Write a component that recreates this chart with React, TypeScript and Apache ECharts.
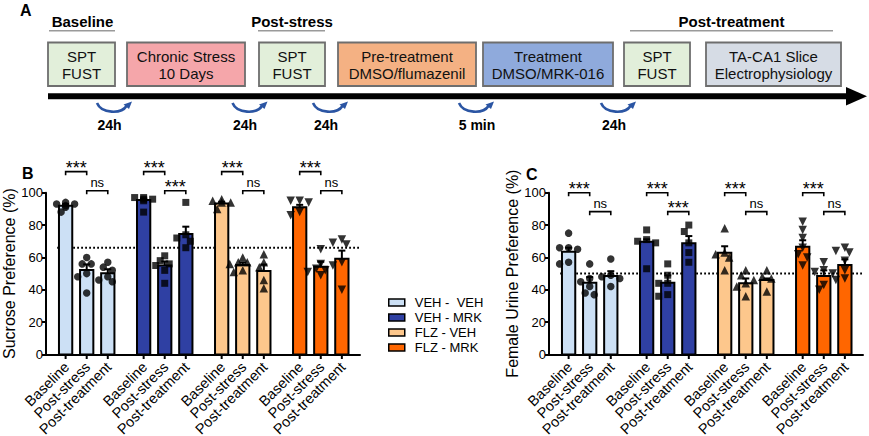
import React, { useEffect, useRef } from "react";
import * as echarts from "echarts";

// ---------------- DATA ----------------
const phases = ["Baseline", "Post-stress", "Post-treatment"];
const groupNames = ["VEH - \u00a0VEH", "VEH - MRK", "FLZ - VEH", "FLZ - MRK"];

// Panel B: sucrose preference (%)
const sucroseMeans = [
  [92, 52.2, 50.2],
  [95.5, 55, 74.5],
  [93.4, 55.3, 51.6],
  [91, 54.3, 59.2],
];
const sucroseSems = [
  [1, 3.5, 2.5],
  [0.8, 2.5, 4.5],
  [1, 1.5, 4],
  [1.5, 3, 5],
];
const sucrosePoints = [
  [[93, 94, 92, 91, 88, 93], [60, 56, 56, 50, 48, 38], [57, 54, 52, 48, 46, 45]],
  [[97, 97, 96, 96, 95, 88], [61, 58, 56, 55, 52, 44], [94, 74, 72, 70, 66]],
  [[96, 95, 94, 94, 90], [60, 57, 57, 56, 52, 51], [62, 57, 54, 46, 41]],
  [[95, 95, 94, 88, 86], [65, 56, 53, 52, 51, 49], [71, 69, 68, 57, 55, 40]],
];
const sucroseCriterion = 66;

// Panel C: female urine preference (%)
const urineMeans = [
  [63.5, 44.4, 48.5],
  [69.7, 44.4, 68.7],
  [62.9, 44, 46],
  [66.6, 48.5, 55.3],
];
const urineSems = [
  [2.5, 3.5, 3],
  [1.5, 4.5, 4.5],
  [4, 3, 1],
  [4, 3.5, 3.5],
];
const urinePoints = [
  [[75, 66, 66, 65, 57, 56], [56, 47, 45, 42, 38, 37], [59, 49, 48, 47, 42]],
  [[77, 71, 70, 69, 53], [56, 49, 44, 44, 37, 36], [80, 76, 69, 63, 57]],
  [[78, 63, 62, 60, 52], [52, 49, 44, 42, 36], [52, 48, 47, 46, 39]],
  [[82, 77, 72, 66, 62, 60, 55], [57, 52, 51, 50, 43, 40], [66, 64, 63, 58, 52, 47, 46]],
];
const urineCriterion = 50;

// significance: [baseline vs post-stress, post-stress vs post-treatment]
const sigLabels = [
  ["***", "ns"],
  ["***", "***"],
  ["***", "ns"],
  ["***", "ns"],
];

const yTicks = [0, 20, 40, 60, 80, 100];

// Panel A timeline
const timelineBoxes = [
  "SPT\nFUST",
  "Chronic Stress\n10 Days",
  "SPT\nFUST",
  "Pre-treatment\nDMSO/flumazenil",
  "Treatment\nDMSO/MRK-016",
  "SPT\nFUST",
  "TA-CA1 Slice\nElectrophysiology",
];
const timelineGaps = ["24h", "24h", "24h", "5 min", "24h"];
const phaseHeaders = ["Baseline", "Post-stress", "Post-treatment"];

// ---------------- LAYOUT / STYLE ----------------
const FONT = '"Liberation Sans", Arial, Helvetica, sans-serif';
const groupColors = ["#cce0f5", "#2f40a3", "#fdc78c", "#ff6600"];
const groupSymbols = ["circle", "rect", "triangle", "triangle"];
const symbolRotations = [0, 0, 0, 180];
const symbolSizes = [7.5, 7, 8.5, 8.5];
const GROUP_STEP = 3.7;
const X_MIN = -0.93;
const X_MAX = 13.96;
const X_PX = 314 / (X_MAX - X_MIN);
const Y_PX = 161.8 / 100;
const bracketLevels = [
  [113, 101.2],
  [100, 88.3],
];

const boxX = [
  [48, 115],
  [127, 245],
  [259, 325],
  [338, 476],
  [483, 613],
  [624, 690],
  [706, 841],
];
const boxFills = ["#e2efda", "#f5a6aa", "#e2efda", "#f4b183", "#8faadc", "#e2efda", "#d6dce5"];
const gapLabelX = [109.5, 245, 326, 477, 614];
const gapArcX = [113.5, 249, 329.5, 475.5, 617.5];
const headerX = [82.5, 292, 731.5];
const headerLines = [
  [49, 115],
  [258, 325],
  [630, 833],
];

const barX = (g: number, i: number) => g * GROUP_STEP + i;

function swarm(values: number[], center: number): number[][] {
  const placed: number[][] = [];
  const cands = [0, -4.5, 4.5, -9, 9, -13, 13];
  const order = values.map((_, i) => i).sort((a, b) => values[b] - values[a]);
  const out: number[][] = [];
  for (const idx of order) {
    const v = values[idx];
    let chosen = 0;
    for (const c of cands) {
      const ok = placed.every(([px, pv]) => (px - c) ** 2 + ((pv - v) * Y_PX) ** 2 >= 6.5 * 6.5);
      if (ok) {
        chosen = c;
        break;
      }
    }
    placed.push([chosen, v]);
    out.push([center + chosen / X_PX, v]);
  }
  return out;
}

function buildPanel(
  panelIdx: number,
  means: number[][],
  sems: number[][],
  points: number[][][],
  criterion: number
): any[] {
  const series: any[] = [];
  // reference dotted line
  series.push({
    type: "line",
    xAxisIndex: panelIdx,
    yAxisIndex: panelIdx,
    data: [
      [-0.4, criterion],
      [X_MAX, criterion],
    ],
    symbol: "none",
    silent: true,
    z: 1,
    lineStyle: { color: "#000", width: 2, type: [1.8, 2.2] },
  });
  // bars with error bars
  means.forEach((gm, g) => {
    series.push({
      type: "custom",
      name: groupNames[g],
      xAxisIndex: panelIdx,
      yAxisIndex: panelIdx,
      clip: false,
      z: 2,
      itemStyle: { color: groupColors[g] },
      encode: { x: 0, y: 1 },
      data: gm.map((m, i) => [barX(g, i), m, sems[g][i]]),
      renderItem: (params: any, api: any) => {
        const x = api.value(0);
        const y = api.value(1);
        const s = api.value(2);
        const base = api.coord([x, 0]);
        const top = api.coord([x, y]);
        const et = api.coord([x, y + s]);
        const w = api.size([1, 0])[0] * 0.63;
        return {
          type: "group",
          children: [
            {
              type: "line",
              shape: { x1: top[0], y1: top[1], x2: top[0], y2: et[1] },
              style: { stroke: "#000", lineWidth: 2 },
            },
            {
              type: "line",
              shape: { x1: top[0] - 3.5, y1: et[1], x2: top[0] + 3.5, y2: et[1] },
              style: { stroke: "#000", lineWidth: 2 },
            },
            {
              type: "rect",
              shape: { x: base[0] - w / 2, y: top[1], width: w, height: base[1] - top[1] },
              style: { fill: groupColors[g], stroke: "#000", lineWidth: 2 },
            },
          ],
        };
      },
    });
  });
  // individual points
  points.forEach((gp, g) => {
    const data: number[][] = [];
    gp.forEach((vals, i) => {
      swarm(vals, barX(g, i)).forEach((p) => data.push(p));
    });
    series.push({
      type: "scatter",
      xAxisIndex: panelIdx,
      yAxisIndex: panelIdx,
      symbol: groupSymbols[g],
      symbolRotate: symbolRotations[g],
      symbolSize: symbolSizes[g],
      itemStyle: { color: "#000" },
      z: 4,
      silent: true,
      data,
    });
  });
  // x tick marks + rotated category labels
  const labelData: number[][] = [];
  means.forEach((gm, g) => gm.forEach((_, i) => labelData.push([barX(g, i), 0, i])));
  series.push({
    type: "custom",
    xAxisIndex: panelIdx,
    yAxisIndex: panelIdx,
    clip: false,
    silent: true,
    z: 5,
    encode: { x: 0, y: 1 },
    data: labelData,
    renderItem: (params: any, api: any) => {
      const p = api.coord([api.value(0), 0]);
      const idx = api.value(2);
      return {
        type: "group",
        children: [
          {
            type: "line",
            shape: { x1: p[0], y1: p[1], x2: p[0], y2: p[1] + 4.5 },
            style: { stroke: "#000", lineWidth: 2 },
          },
          {
            type: "text",
            x: p[0] + 1,
            y: p[1] + 10,
            rotation: Math.PI / 4,
            style: {
              text: phases[idx],
              align: "right",
              verticalAlign: "middle",
              font: `14.5px ${FONT}`,
              fill: "#000",
            },
          },
        ],
      };
    },
  });
  // significance brackets
  const brData: number[][] = [];
  sigLabels.forEach((pair, g) => {
    brData.push([barX(g, 0), barX(g, 1), bracketLevels[panelIdx][0], g, 0]);
    brData.push([barX(g, 1), barX(g, 2), bracketLevels[panelIdx][1], g, 1]);
  });
  series.push({
    type: "custom",
    xAxisIndex: panelIdx,
    yAxisIndex: panelIdx,
    clip: false,
    silent: true,
    z: 5,
    encode: { x: [0, 1], y: 2 },
    data: brData,
    renderItem: (params: any, api: any) => {
      const a = api.coord([api.value(0), api.value(2)]);
      const b = api.coord([api.value(1), api.value(2)]);
      const label = sigLabels[api.value(3)][api.value(4)];
      const star = label === "***";
      return {
        type: "group",
        children: [
          {
            type: "polyline",
            shape: {
              points: [
                [a[0], a[1] + 3.5],
                [a[0], a[1]],
                [b[0], b[1]],
                [b[0], b[1] + 3.5],
              ],
            },
            style: { stroke: "#000", lineWidth: 1.6, fill: null },
          },
          {
            type: "text",
            x: (a[0] + b[0]) / 2,
            y: a[1] - (star ? 4 : 8.5),
            style: {
              text: label,
              align: "center",
              verticalAlign: "middle",
              font: `${star ? 18 : 13}px ${FONT}`,
              fill: "#000",
            },
          },
        ],
      };
    },
  });
  return series;
}

function buildGraphic(): any[] {
  const els: any[] = [];
  const bold = (size: number) => `bold ${size}px ${FONT}`;
  // panel letters
  els.push({ type: "text", x: 20, y: 10, style: { text: "A", font: bold(16), fill: "#000", verticalAlign: "middle" } });
  els.push({ type: "text", x: 22, y: 173, style: { text: "B", font: bold(16), fill: "#000", verticalAlign: "middle" } });
  els.push({ type: "text", x: 526, y: 174, style: { text: "C", font: bold(16), fill: "#000", verticalAlign: "middle" } });
  // phase headers
  phaseHeaders.forEach((h, i) => {
    els.push({
      type: "text",
      x: headerX[i],
      y: 21,
      style: { text: h, font: bold(15), fill: "#000", align: "center", verticalAlign: "middle" },
    });
    els.push({
      type: "line",
      shape: { x1: headerLines[i][0], y1: 30.7, x2: headerLines[i][1], y2: 30.7 },
      style: { stroke: "#9a9a9a", lineWidth: 1.5 },
    });
  });
  // boxes
  timelineBoxes.forEach((t, i) => {
    const [x0, x1] = boxX[i];
    els.push({
      type: "rect",
      shape: { x: x0, y: 42.5, width: x1 - x0, height: 43.5 },
      style: { fill: boxFills[i], stroke: "#6e6e6e", lineWidth: 1.8 },
    });
    els.push({
      type: "text",
      x: (x0 + x1) / 2,
      y: 65,
      style: {
        text: t,
        font: `15px ${FONT}`,
        lineHeight: 17,
        fill: "#111",
        align: "center",
        verticalAlign: "middle",
      },
    });
  });
  // timeline arrow
  els.push({ type: "rect", shape: { x: 48, y: 93.3, width: 800, height: 6 }, style: { fill: "#000" } });
  els.push({
    type: "polygon",
    shape: {
      points: [
        [846, 87],
        [867, 96.3],
        [846, 105.6],
      ],
    },
    style: { fill: "#000" },
  });
  // curved interval arrows + labels
  timelineGaps.forEach((g, i) => {
    const c = gapArcX[i];
    els.push({
      type: "bezierCurve",
      shape: { x1: c - 16.5, y1: 103, cpx1: c - 12, cpy1: 114, cpx2: c + 8, cpy2: 114, x2: c + 13, y2: 106 },
      style: { stroke: "#2b55a3", lineWidth: 2.6, fill: null },
    });
    els.push({
      type: "polygon",
      shape: {
        points: [
          [c + 18.5, 101.5],
          [c + 10, 104.5],
          [c + 15.5, 109],
        ],
      },
      style: { fill: "#2b55a3" },
    });
    els.push({
      type: "text",
      x: gapLabelX[i],
      y: 124.5,
      style: { text: g, font: bold(14), fill: "#000", align: "center", verticalAlign: "middle" },
    });
  });
  return els;
}

export default function App() {
  const ref = useRef<HTMLDivElement>(null);
  useEffect(() => {
    if (!ref.current) return;
    const chart = echarts.init(ref.current, null, { renderer: "svg" });
    const axisNames = ["Sucrose Preference (%)", "Female Urine Preference (%)"];
    const option: any = {
      animation: false,
      textStyle: { fontFamily: FONT },
      grid: [
        { left: 46, top: 192.7, width: 314, height: 161.8 },
        { left: 549, top: 192.7, width: 314, height: 161.8 },
      ],
      xAxis: [0, 1].map((i) => ({
        gridIndex: i,
        type: "value",
        min: X_MIN,
        max: X_MAX,
        axisLine: { show: true, onZero: false, lineStyle: { color: "#000", width: 2 } },
        axisTick: { show: false },
        axisLabel: { show: false },
        splitLine: { show: false },
      })),
      yAxis: [0, 1].map((i) => ({
        gridIndex: i,
        type: "value",
        min: yTicks[0],
        max: yTicks[yTicks.length - 1],
        interval: yTicks[1] - yTicks[0],
        name: axisNames[i],
        nameLocation: "middle",
        nameGap: i ? 29 : 26,
        nameTextStyle: { fontSize: 16, color: "#000", fontFamily: FONT },
        axisLine: { show: true, onZero: false, lineStyle: { color: "#000", width: 2 } },
        axisTick: { show: true, length: 4, lineStyle: { color: "#000", width: 2 } },
        axisLabel: { fontSize: 13, color: "#000", margin: 3, fontFamily: FONT },
        splitLine: { show: false },
      })),
      legend: {
        orient: "vertical",
        left: 383,
        top: 291,
        itemWidth: 16,
        itemHeight: 7,
        itemGap: 2,
        selectedMode: false,
        textStyle: { fontSize: 13, color: "#000", fontFamily: FONT, padding: [0, 0, 0, 5] },
        data: groupNames.map((n, g) => ({
          name: n,
          icon: "rect",
          itemStyle: { color: groupColors[g], borderColor: "#000", borderWidth: 1.5 },
        })),
      },
      graphic: buildGraphic(),
      series: [
        ...buildPanel(0, sucroseMeans, sucroseSems, sucrosePoints, sucroseCriterion),
        ...buildPanel(1, urineMeans, urineSems, urinePoints, urineCriterion),
      ],
    };
    chart.setOption(option);
    return () => chart.dispose();
  }, []);
  return (
    <div
      ref={ref}
      style={{ position: "fixed", left: 0, top: 0, width: 869, height: 436, background: "#fff" }}
    />
  );
}
